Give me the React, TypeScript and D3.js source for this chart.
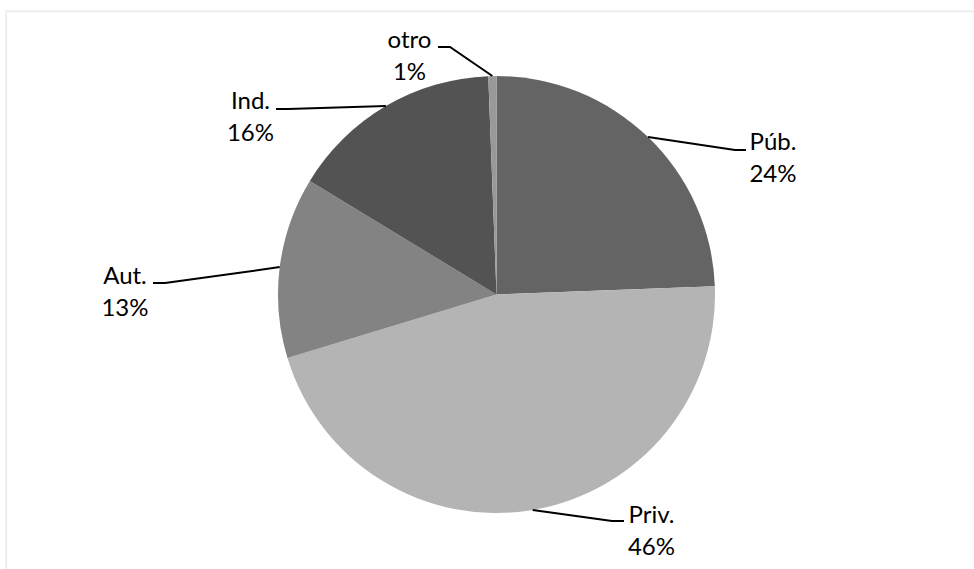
import React from "react";
import * as d3 from "d3";

// slice values (share of the total, in %)
const categories = ["Púb.", "Priv.", "Aut.", "Ind.", "otro"];
const shares = [24.4, 45.9, 13.4, 15.7, 0.6];
const colors = ["#646464", "#b4b4b4", "#838383", "#535353", "#999999"];

const W = 974;
const H = 569;
const CX = 496.5;
const CY = 294.5;
const R = 218.5;
const LINE_H = 32;

// label placement: text centre x, baseline y, and the two leader points next to the text
const labelLayout: Record<string, { cx: number; y: number; elbow: [number, number]; end: [number, number] }> = {
  "Púb.": { cx: 773, y: 150, elbow: [735, 150], end: [746, 150] },
  "Priv.": { cx: 651.5, y: 523, elbow: [612, 521], end: [624, 521] },
  "Aut.": { cx: 125, y: 284, elbow: [165, 283], end: [153, 283] },
  "Ind.": { cx: 250.5, y: 109, elbow: [288, 109], end: [276, 109] },
  "otro": { cx: 409.5, y: 48, elbow: [450, 47], end: [438, 47] },
};

const App: React.FC = () => {
  const data = categories.map((name, i) => ({ name, value: shares[i], color: colors[i] }));
  const pie = d3.pie<{ name: string; value: number; color: string }>()
    .sort(null)
    .value((d) => d.value);
  const arcs = pie(data);
  const arc = d3.arc<d3.PieArcDatum<{ name: string; value: number; color: string }>>()
    .innerRadius(0)
    .outerRadius(R);

  return (
    <svg
      width={W}
      height={H}
      style={{ position: "absolute", left: 0, top: 0, display: "block" }}
      fontFamily="Lato, 'Open Sans', sans-serif"
    >
      <rect x={0} y={0} width={W} height={H} fill="#ffffff" />
      <rect x={6.2} y={11.3} width={1100} height={700} fill="#ffffff" stroke="#eeeeee" strokeWidth={2} />
      <g transform={`translate(${CX},${CY})`}>
        {arcs.map((a) => (
          <path key={a.data.name} d={arc(a) || ""} fill={a.data.color} />
        ))}
      </g>
      {arcs.map((a) => {
        const lay = labelLayout[a.data.name];
        const mid = (a.startAngle + a.endAngle) / 2;
        const px = CX + R * Math.sin(mid);
        const py = CY - R * Math.cos(mid);
        const line = d3.line()([[px, py], lay.elbow, lay.end]);
        return (
          <g key={a.data.name}>
            <path d={line || ""} fill="none" stroke="#000000" strokeWidth={2} />
            <text x={lay.cx} y={lay.y} textAnchor="middle" fontSize={24} fill="#000000">
              {a.data.name}
            </text>
            <text x={lay.cx} y={lay.y + LINE_H} textAnchor="middle" fontSize={24} fill="#000000">
              {Math.round(a.data.value)}%
            </text>
          </g>
        );
      })}
    </svg>
  );
};

export default App;
